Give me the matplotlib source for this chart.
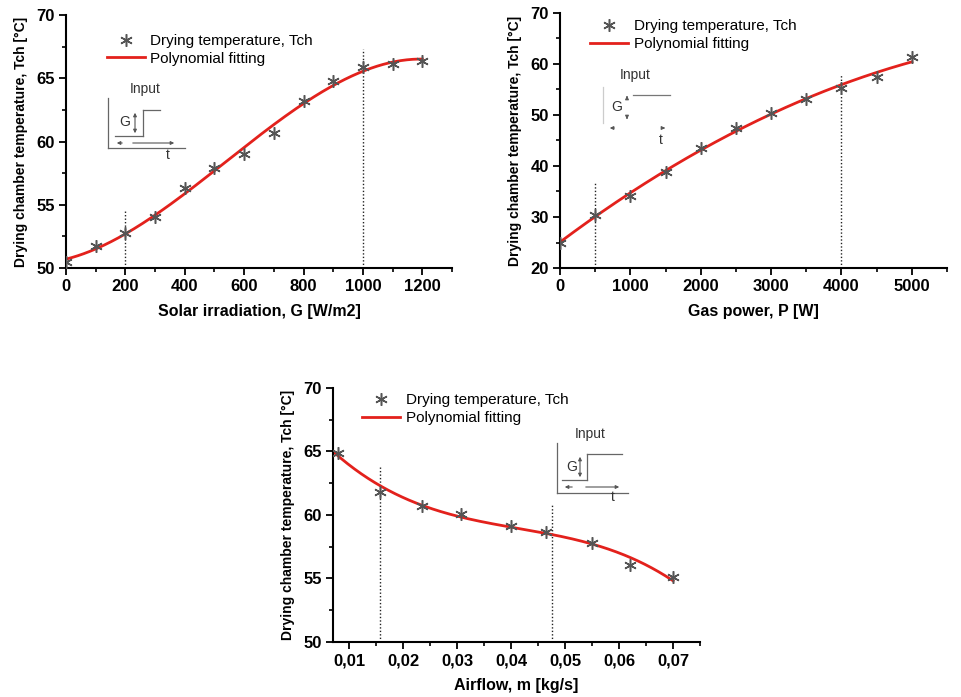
import numpy as np
import matplotlib
matplotlib.use("Agg")
import matplotlib.pyplot as plt
from matplotlib.lines import Line2D
from matplotlib.patches import FancyArrowPatch
from matplotlib.ticker import MultipleLocator, AutoMinorLocator, FixedLocator, FuncFormatter

plt.rcParams['font.family'] = ['Liberation Sans', 'DejaVu Sans']

# panel 1: solar irradiation
solar_g = [0, 100, 200, 300, 400, 500, 600, 700, 800, 900, 1000, 1100, 1200]
solar_t = [50.5, 51.7, 52.8, 54.0, 56.3, 57.9, 59.0, 60.7, 63.2, 64.8, 65.9, 66.1, 66.4]
solar_marks = [(200, 54.5), (1000, 67.3)]

# panel 2: gas power
gas_p = [0, 500, 1000, 1500, 2000, 2500, 3000, 3500, 4000, 4500, 5000]
gas_t = [25.0, 30.4, 34.1, 38.9, 43.6, 47.4, 50.3, 53.2, 55.3, 57.5, 61.3]
gas_marks = [(500, 36.6), (4000, 58.1)]

# panel 3: airflow
air_m = [0.008, 0.0158, 0.0235, 0.0308, 0.040, 0.0465, 0.0549, 0.0621, 0.070]
air_t = [64.9, 61.8, 60.7, 60.1, 59.1, 58.7, 57.8, 56.1, 55.1]
air_marks = [(0.0158, 63.8), (0.0475, 60.9)]
air_ticks = [0.01, 0.02, 0.03, 0.04, 0.05, 0.06, 0.07]

W, H = 961, 697
fig = plt.figure(figsize=(W / 100, H / 100), dpi=100)

RED = '#e3211c'
MK = '#555555'
YLABEL = 'Drying chamber temperature, Tch [°C]'


def px(x, y):
    return x / W, 1 - y / H


def bold_ticks(ax):
    for lab in ax.get_xticklabels() + ax.get_yticklabels():
        lab.set_fontweight('bold')
        lab.set_fontsize(12)


def style(ax, xlim, ylim, xmaj, ymaj):
    ax.set_xlim(*xlim)
    ax.set_ylim(*ylim)
    for s in ['top', 'right']:
        ax.spines[s].set_visible(False)
    for s in ['left', 'bottom']:
        ax.spines[s].set_linewidth(1.5)
    ax.xaxis.set_major_locator(MultipleLocator(xmaj))
    ax.yaxis.set_major_locator(MultipleLocator(ymaj))
    ax.xaxis.set_minor_locator(AutoMinorLocator(2))
    ax.yaxis.set_minor_locator(AutoMinorLocator(2))
    ax.tick_params(which='major', direction='out', length=5, width=1.3, pad=3)
    ax.tick_params(which='minor', direction='out', length=3, width=1.2)
    bold_ticks(ax)


def panel(rect, x, y, deg, xfit, marks, xlim, ylim, xmaj, ymaj, xlabel, leg_anchor):
    ax = fig.add_axes(rect)
    coef = np.polyfit(x, y, deg)
    xs = np.linspace(xfit[0], xfit[1], 300)
    ax.plot(x, y, linestyle='none', marker=(6, 2, 0), ms=9, mew=1.1, color=MK,
            label='Drying temperature, Tch', zorder=3)
    ax.plot(xs, np.polyval(coef, xs), color=RED, lw=2, label='Polynomial fitting', zorder=2)
    for mx, top in marks:
        ax.plot([mx, mx], [ylim[0], top], color='#222222', lw=1, dashes=(1, 1.5), zorder=1)
    style(ax, xlim, ylim, xmaj, ymaj)
    ax.set_xlabel(xlabel, fontsize=11.5, fontweight='bold', labelpad=7)
    ax.set_ylabel(YLABEL, fontsize=10, fontweight='bold', labelpad=6)
    ax.legend(loc='upper left', bbox_to_anchor=leg_anchor, frameon=False, fontsize=11,
              handlelength=2.5, handletextpad=0.35, labelspacing=0.25, borderpad=0,
              borderaxespad=0)
    return ax


def seg(x0, y0, x1, y1, color='#666666', lw=0.9):
    a, b = px(x0, y0)
    c, d = px(x1, y1)
    fig.add_artist(Line2D([a, c], [b, d], color=color, lw=lw, transform=fig.transFigure))


def arrow(x0, y0, x1, y1, both=False):
    fig.add_artist(FancyArrowPatch(
        px(x0, y0), px(x1, y1), transform=fig.transFigure,
        arrowstyle='<|-|>' if both else '-|>', mutation_scale=5, color='#555555', lw=0.8))


def label(x, y, s, size=10):
    a, b = px(x, y)
    fig.text(a, b, s, fontsize=size, ha='center', va='center', color='#333333')


ax1 = panel([66 / W, 1 - 268 / H, 386 / W, 253 / H], solar_g, solar_t, 3, (0, 1200),
            solar_marks, (0, 1300), (50, 70), 200, 5,
            'Solar irradiation, G [W/m2]', (0.106, 0.925))
ax2 = panel([560 / W, 1 - 268 / H, 387 / W, 255 / H], gas_p, gas_t, 2, (0, 5000),
            gas_marks, (0, 5500), (20, 70), 1000, 10,
            'Gas power, P [W]', (0.078, 0.976))
ax3 = panel([333 / W, 1 - 642 / H, 367 / W, 254 / H], air_m, air_t, 3, (0.0072, 0.070),
            air_marks, (0.007, 0.075), (50, 70), 0.01, 5,
            'Airflow, m [kg/s]', (0.079, 0.98))
ax3.xaxis.set_major_locator(FixedLocator(air_ticks))
ax3.xaxis.set_minor_locator(FixedLocator([t + 0.005 for t in air_ticks]))
ax3.xaxis.set_major_formatter(FuncFormatter(lambda v, p: f'{v:.2f}'.replace('.', ',')))
bold_ticks(ax3)

# inset 1: step input schematic
label(145, 89, 'Input')
seg(108, 98, 108, 148)
seg(108, 148, 185, 148)
seg(115, 136, 143, 136)
seg(143, 136, 143, 110)
seg(143, 110, 160, 110)
arrow(135, 136, 135, 110, both=True)
arrow(125, 143, 114, 143)
arrow(130, 143, 177, 143)
label(125, 122, 'G')
label(168, 155, 't')

# inset 2: faded step schematic
label(635, 75, 'Input')
seg(603, 87, 603, 123, color='#cccccc')
seg(633, 95, 670, 95, color='#777777')
arrow(627, 100, 627, 93)
arrow(627, 115, 627, 122)
arrow(617, 128, 607, 128)
arrow(660, 128, 668, 128)
label(617, 107, 'G')
label(661, 140, 't')

# inset 3: step input schematic
label(590, 434, 'Input')
seg(557, 443, 557, 493)
seg(557, 493, 628, 493)
seg(562, 480, 587, 480)
seg(587, 480, 587, 454)
seg(587, 454, 622, 454)
arrow(580, 480, 580, 454, both=True)
arrow(575, 487, 562, 487)
arrow(583, 487, 622, 487)
label(572, 467, 'G')
label(613, 497, 't')

fig.savefig('out.png', dpi=100)
